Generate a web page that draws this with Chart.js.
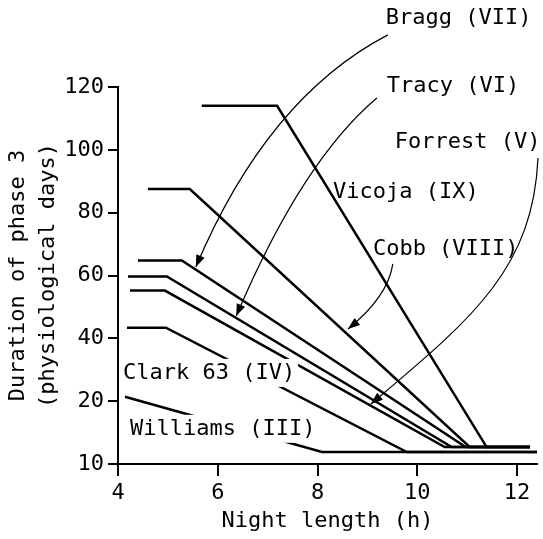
<!DOCTYPE html>
<html>
<head>
<meta charset="utf-8">
<script src="https://cdn.jsdelivr.net/npm/chart.js@4.4.1/dist/chart.umd.min.js"></script>
<style>
  body { margin: 0; background: #fff; }
  #wrap { width: 543px; height: 539px; }
</style>
</head>
<body>
<div id="wrap"><canvas id="phaseChart"></canvas></div>
<script>
// night length (h) / duration of phase 3 (physiological days)
const vicojaX = [5.68, 7.19, 11.39, 12.26];
const vicojaY = [114, 114, 12.7, 12.7];
const cobbX = [4.6, 5.44, 11.05, 12.26];
const cobbY = [87.5, 87.5, 12.7, 12.7];
const braggX = [4.4, 5.28, 10.97, 12.26];
const braggY = [64.8, 64.8, 12.7, 12.7];
const tracyX = [4.2, 4.98, 10.69, 12.26];
const tracyY = [59.7, 59.7, 12.7, 12.7];
const forrestX = [4.24, 4.94, 10.55, 12.26];
const forrestY = [55.2, 55.2, 12.7, 12.7];
const clarkX = [4.18, 4.96, 9.79, 12.4];
const clarkY = [43.4, 43.4, 11.9, 11.9];
const williamsX = [4.14, 8.09, 12.4];
const williamsY = [21.4, 11.9, 11.9];

const xTicks = [4, 6, 8, 10, 12];
const yTicks = [10, 20, 40, 60, 80, 100, 120];

const FONT = "'DejaVu Sans Mono', 'Liberation Mono', monospace";

// cultivar labels and their leader arrows, in data units
const labels = [
    { text: 'Bragg (VII)', x: 9.37, y: 142 },
    { text: 'Tracy (VI)', x: 9.39, y: 120.3 },
    { text: 'Forrest (V)', x: 9.55, y: 102.5 },
    { text: 'Vicoja (IX)', x: 8.31, y: 86.6 },
    { text: 'Cobb (VIII)', x: 9.11, y: 68.4 },
    { text: 'Clark 63 (IV)', x: 4.10, y: 29.0, mask: true },
    { text: 'Williams (III)', x: 4.24, y: 15.6, mask: true }
];
const arrows = [
    [[9.41, 136.6], [6.99, 116.5], [5.56, 62.7]],
    [[9.19, 116.5], [7.69, 96.4], [6.37, 47.1]],
    [[9.51, 63.7], [9.41, 53.2], [8.61, 43.0]],
    [[12.42, 97.4], [12.32, 61.7], [11.06, 45.8], [9.07, 19.55]]
];

function pairs(xs, ys) {
    return xs.map((x, i) => ({ x: x, y: ys[i] }));
}

// y axis is stretched below 20: the 10-20 step takes as much room as a 20 step
class BrokenLinear extends Chart.LinearScale {
    getPixelForValue(value) {
        const u = value < 20 ? (value - 10) * 2 : value;
        return this.getPixelForDecimal(u / 120);
    }
    getValueForPixel(pixel) {
        const u = this.getDecimalForPixel(pixel) * 120;
        return u < 20 ? 10 + u / 2 : u;
    }
}
BrokenLinear.id = 'brokenLinear';
BrokenLinear.defaults = Chart.LinearScale.defaults;
Chart.register(BrokenLinear);

const annotate = {
    id: 'annotate',
    afterDatasetsDraw(chart) {
        const ctx = chart.ctx;
        const xs = chart.scales.x, ys = chart.scales.y;
        const px = p => [xs.getPixelForValue(p[0]), ys.getPixelForValue(p[1])];
        ctx.save();
        ctx.strokeStyle = '#000';
        ctx.fillStyle = '#000';
        ctx.lineWidth = 1.2;
        arrows.forEach(a => {
            const pts = a.map(px);
            ctx.beginPath();
            ctx.moveTo(pts[0][0], pts[0][1]);
            if (pts.length === 3) {
                ctx.quadraticCurveTo(pts[1][0], pts[1][1], pts[2][0], pts[2][1]);
            } else {
                ctx.bezierCurveTo(pts[1][0], pts[1][1], pts[2][0], pts[2][1], pts[3][0], pts[3][1]);
            }
            ctx.stroke();
            const tip = pts[pts.length - 1], prev = pts[pts.length - 2];
            const ang = Math.atan2(tip[1] - prev[1], tip[0] - prev[0]);
            ctx.beginPath();
            ctx.moveTo(tip[0], tip[1]);
            ctx.lineTo(tip[0] - 12 * Math.cos(ang) + 4.5 * Math.sin(ang), tip[1] - 12 * Math.sin(ang) - 4.5 * Math.cos(ang));
            ctx.lineTo(tip[0] - 12 * Math.cos(ang) - 4.5 * Math.sin(ang), tip[1] - 12 * Math.sin(ang) + 4.5 * Math.cos(ang));
            ctx.closePath();
            ctx.fill();
        });
        ctx.font = '22px ' + FONT;
        ctx.textBaseline = 'middle';
        ctx.textAlign = 'left';
        labels.forEach(l => {
            const [x, y] = px([l.x, l.y]);
            if (l.mask) {
                const w = ctx.measureText(l.text).width;
                ctx.fillStyle = '#fff';
                ctx.fillRect(x - 3, y - 14, w + 6, 28);
            }
            ctx.fillStyle = '#000';
            ctx.fillText(l.text, x, y);
        });
        ctx.restore();
    }
};

const series = [
    pairs(vicojaX, vicojaY), pairs(cobbX, cobbY), pairs(braggX, braggY),
    pairs(tracyX, tracyY), pairs(forrestX, forrestY), pairs(clarkX, clarkY),
    pairs(williamsX, williamsY)
];
const names = ['Vicoja (IX)', 'Cobb (VIII)', 'Bragg (VII)', 'Tracy (VI)', 'Forrest (V)', 'Clark 63 (IV)', 'Williams (III)'];

const ctx = document.getElementById('phaseChart').getContext('2d');
const chart = new Chart(ctx, {
    type: 'line',
    data: {
        datasets: series.map((d, i) => ({
            label: names[i],
            data: d,
            borderColor: '#000',
            borderWidth: 2.5,
            pointRadius: 0,
            tension: 0,
            fill: false
        }))
    },
    options: {
        responsive: true,
        maintainAspectRatio: false,
        animation: false,
        layout: { padding: { top: 87, right: 6, bottom: 0, left: 0 } },
        plugins: { legend: { display: false }, tooltip: { enabled: false } },
        scales: {
            x: {
                type: 'linear',
                min: 4,
                max: 12.4,
                afterBuildTicks: s => { s.ticks = xTicks.map(v => ({ value: v })); },
                afterFit: s => { s.height = 75; },
                grid: { drawOnChartArea: false, color: '#000', lineWidth: 2, tickLength: 12 },
                border: { color: '#000', width: 2 },
                ticks: { color: '#000', padding: 4, maxRotation: 0, font: { family: FONT, size: 22 } },
                title: {
                    display: true,
                    text: 'Night length (h)',
                    color: '#000',
                    padding: { top: 0, bottom: 5 },
                    font: { family: FONT, size: 22, lineHeight: 1.2 }
                }
            },
            y: {
                type: 'brokenLinear',
                min: 10,
                max: 120,
                afterBuildTicks: s => { s.ticks = yTicks.map(v => ({ value: v })); },
                afterFit: s => { s.width = 118; },
                grid: { drawOnChartArea: false, color: '#000', lineWidth: 2, tickLength: 10 },
                border: { color: '#000', width: 2 },
                ticks: { color: '#000', padding: 4, font: { family: FONT, size: 22 } },
                title: {
                    display: true,
                    text: ['Duration of phase 3', '(physiological days)'],
                    color: '#000',
                    padding: { top: 3, bottom: 0 },
                    font: { family: FONT, size: 22, lineHeight: '30px' }
                }
            }
        }
    },
    plugins: [annotate]
});
</script>
</body>
</html>
